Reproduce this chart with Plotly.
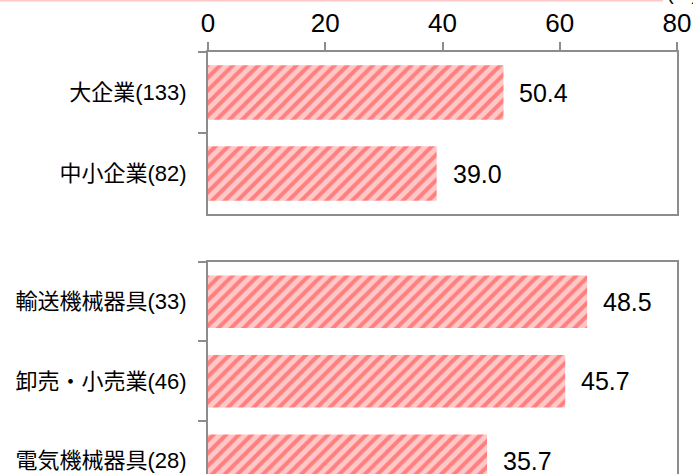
import plotly.graph_objects as go

# ---- data ----
size_labels = ["大企業(133)", "中小企業(82)"]
size_values = [50.4, 39.0]
ind_labels = ["輸送機械器具(33)", "卸売・小売業(46)", "電気機械器具(28)"]
ind_values = [48.5, 45.7, 35.7]
x_ticks = [0, 20, 40, 60, 80]
unit_label = "(%)"

# ---- geometry helpers ----
W, H = 693, 474
ML, MR, MT, MB = 208, 16, 52, 0
PW = W - ML - MR
PH = H - MT - MB


def py(p):
    return 1 - (p - MT) / PH


def px(p):
    return (p - ML) / PW


FONT = "Liberation Sans, Arial, Noto Sans CJK JP, sans-serif"
AX = "#8c8c8c"
pattern = dict(shape="/", bgcolor="#FFC8C8", fgcolor="#FF7F7F", size=9,
               solidity=0.45, fillmode="replace")

fig = go.Figure()
fig.add_trace(go.Bar(x=size_values, y=size_labels, orientation="h",
                     xaxis="x", yaxis="y", width=0.67,
                     marker=dict(color="#FFC8C8", pattern=pattern, line=dict(width=0)),
                     hoverinfo="skip"))
fig.add_trace(go.Bar(x=ind_values, y=ind_labels, orientation="h",
                     xaxis="x2", yaxis="y2", width=0.66,
                     marker=dict(color="#FFC8C8", pattern=pattern, line=dict(width=0)),
                     hoverinfo="skip"))

annotations = []
for v, c in zip(size_values, size_labels):
    annotations.append(dict(x=v, y=c, xref="x", yref="y", text=f"{v:.1f}",
                            xanchor="left", xshift=14, showarrow=False,
                            font=dict(size=25, color="black", family=FONT)))
for v, c in zip(ind_values, ind_labels):
    annotations.append(dict(x=v, y=c, xref="x2", yref="y2", text=f"{v:.1f}",
                            xanchor="left", xshift=14, showarrow=False,
                            font=dict(size=25, color="black", family=FONT)))
annotations.append(dict(x=px(665), y=py(6), xref="paper", yref="paper",
                        text=unit_label, xanchor="left", yanchor="bottom",
                        showarrow=False, font=dict(size=20, color="black", family=FONT)))

common_x = dict(showgrid=False, zeroline=False, showline=True,
                linecolor=AX, linewidth=2, fixedrange=True)
common_y = dict(type="category", showgrid=False, zeroline=False, showline=True,
                linecolor=AX, linewidth=2, mirror=True, ticks="outside",
                tickson="boundaries", ticklen=8, tickwidth=2, tickcolor=AX,
                ticklabelstandoff=15,
                tickfont=dict(size=22, color="black", family=FONT))

fig.update_layout(
    width=W, height=H,
    margin=dict(l=ML, r=MR, t=MT, b=MB),
    paper_bgcolor="white", plot_bgcolor="white",
    showlegend=False, bargap=0.33,
    font=dict(family=FONT, color="black"),
    xaxis=dict(**common_x, range=[0, 80], domain=[0, 1], anchor="y", side="top",
               tickvals=x_ticks, ticks="outside", ticklen=8, tickwidth=2,
               tickcolor=AX, mirror=True,
               tickfont=dict(size=26, color="black", family=FONT)),
    yaxis=dict(**common_y, domain=[py(214), 1], anchor="x",
               categoryorder="array", categoryarray=size_labels,
               range=[1.5, -0.5]),
    xaxis2=dict(**common_x, range=[0, 60], domain=[0, 1], anchor="y2", side="top",
                showticklabels=False, ticks=""),
    yaxis2=dict(**common_y, domain=[0, py(262)], anchor="x2",
                categoryorder="array", categoryarray=ind_labels,
                range=[2.167, -0.5]),
    annotations=annotations,
    shapes=[dict(type="line", xref="paper", yref="paper",
                 x0=px(0), x1=px(663), y0=py(0.75), y1=py(0.75),
                 line=dict(color="#FFC8C8", width=1.5))],
)

fig.write_html(
    "out.html",
    config={"displayModeBar": False},
    post_script="document.body.style.margin='0';document.body.style.overflow='hidden';",
)
